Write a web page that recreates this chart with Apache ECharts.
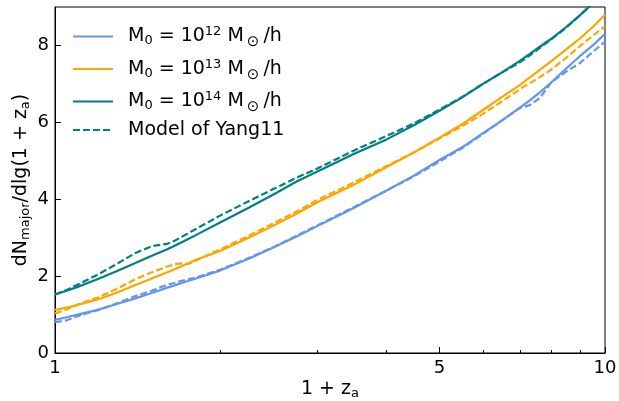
<!DOCTYPE html>
<html>
<head>
<meta charset="utf-8">
<script src="https://cdn.jsdelivr.net/npm/echarts@6/dist/echarts.min.js"></script>
<style>
html,body{margin:0;padding:0;background:#fff;}
#chart{width:619px;height:401px;}
</style>
</head>
<body>
<div id="chart"></div>
<script>
// x = 1 + z_a
var onePlusZ = [1.0, 1.05, 1.1, 1.2, 1.3, 1.4, 1.5, 1.6, 1.65, 1.7, 1.75, 1.8, 2.0, 2.25, 2.5, 2.75, 3.0, 3.5, 4.0, 4.5, 5.0, 5.5, 6.0, 6.5, 7.0, 7.3, 7.6, 8.0, 8.5, 9.0, 9.5, 10.0];

var m12 = [0.86, 0.93, 1.00, 1.13, 1.28, 1.42, 1.56, 1.70, 1.76, 1.82, 1.88, 1.93, 2.15, 2.45, 2.75, 3.03, 3.30, 3.78, 4.22, 4.62, 5.02, 5.35, 5.72, 6.05, 6.38, 6.57, 6.77, 7.05, 7.40, 7.72, 8.00, 8.30];
var m13 = [1.12, 1.18, 1.25, 1.40, 1.58, 1.77, 1.94, 2.10, 2.18, 2.26, 2.34, 2.42, 2.66, 3.00, 3.32, 3.62, 3.92, 4.38, 4.83, 5.22, 5.60, 5.95, 6.32, 6.66, 6.97, 7.17, 7.36, 7.60, 7.90, 8.18, 8.48, 8.80];
var m14 = [1.52, 1.62, 1.72, 1.93, 2.14, 2.34, 2.53, 2.70, 2.79, 2.88, 2.97, 3.06, 3.40, 3.78, 4.13, 4.46, 4.72, 5.18, 5.55, 5.93, 6.30, 6.65, 7.00, 7.30, 7.60, 7.78, 7.96, 8.18, 8.48, 8.78, 9.10, 9.40];

var yang12 = [0.80, 0.85, 0.96, 1.12, 1.30, 1.48, 1.62, 1.78, 1.82, 1.88, 1.92, 1.96, 2.17, 2.47, 2.76, 3.05, 3.32, 3.80, 4.22, 4.60, 4.98, 5.33, 5.70, 6.05, 6.37, 6.45, 6.62, 7.05, 7.32, 7.54, 7.83, 8.10];
var yang13 = [1.03, 1.13, 1.26, 1.45, 1.68, 1.92, 2.10, 2.25, 2.31, 2.33, 2.32, 2.40, 2.70, 3.05, 3.38, 3.68, 3.98, 4.44, 4.86, 5.22, 5.58, 5.90, 6.22, 6.55, 6.86, 7.02, 7.17, 7.38, 7.68, 7.98, 8.25, 8.50];
var yang14 = [1.52, 1.64, 1.78, 2.05, 2.33, 2.60, 2.78, 2.84, 2.92, 3.02, 3.12, 3.22, 3.58, 3.95, 4.27, 4.56, 4.80, 5.27, 5.64, 5.98, 6.33, 6.66, 7.00, 7.30, 7.56, 7.74, 7.93, 8.17, 8.46, 8.78, 9.10, 9.40];

var xMajorTicks = [1, 5, 10];
var xMinorTicks = [2, 3, 4, 6, 7, 8, 9];
var yTicks = [0, 2, 4, 6, 8];

var FONT = 'DejaVu Sans';
var BLUE = '#6495ED', ORANGE = '#FFA500', TEAL = '#008080';

function pairs(ys) {
  return onePlusZ.map(function (x, i) { return [x, ys[i]]; });
}

var legendLabels = {
  'M12': '{g| }{n|M}{sub|0}{n| = 10}{sup|12}{n| M}{od|⊙}{n|/h}',
  'M13': '{g| }{n|M}{sub|0}{n| = 10}{sup|13}{n| M}{od|⊙}{n|/h}',
  'M14': '{g| }{n|M}{sub|0}{n| = 10}{sup|14}{n| M}{od|⊙}{n|/h}',
  'Model of Yang11': '{g| }{n|Model of Yang11}'
};

function line(name, ys, color, dashed) {
  return {
    name: name,
    type: 'line',
    data: pairs(ys),
    symbol: 'none',
    smooth: false,
    clip: true,
    lineStyle: { color: color, width: 2.2, type: dashed ? [7, 3] : 'solid' },
    itemStyle: { color: color },
    z: dashed ? 3 : 2
  };
}

var chart = echarts.init(document.getElementById('chart'), null, { renderer: 'canvas' });
chart.setOption({
  animation: false,
  backgroundColor: '#fff',
  textStyle: { fontFamily: FONT },
  grid: { left: 55, right: 14, top: 7, bottom: 48, containLabel: false, outerBoundsMode: 'none', show: true, borderColor: '#000', borderWidth: 1, backgroundColor: 'transparent' },
  legend: {
    orient: 'vertical',
    left: 72,
    top: 23,
    padding: 0,
    itemWidth: 40,
    itemHeight: 14,
    itemGap: 5.5,
    data: ['M12', 'M13', 'M14', 'Model of Yang11'],
    itemStyle: { opacity: 0 },
    formatter: function (name) { return legendLabels[name]; },
    textStyle: {
      fontFamily: FONT,
      color: '#000',
      rich: {
        g: { width: 10, fontSize: 19, lineHeight: 28 },
        n: { fontSize: 19, lineHeight: 28, fontFamily: FONT, color: '#000' },
        sub: { fontSize: 13, lineHeight: 19, padding: [9, 0, 0, 0], fontFamily: FONT, color: '#000' },
        sup: { fontSize: 13, lineHeight: 19, padding: [0, 0, 9, 0], fontFamily: FONT, color: '#000' },
        od: { fontSize: 15, lineHeight: 16, padding: [12, 4, 0, 3], fontFamily: FONT, color: '#000' }
      }
    }
  },
  xAxis: [
    {
      type: 'log', logBase: 10, min: 1, max: 10,
      axisLine: { show: true, onZero: false, lineStyle: { color: '#000', width: 1 } },
      axisTick: { show: true, inside: true, length: 6, customValues: xMajorTicks, lineStyle: { color: '#000', width: 1 } },
      axisLabel: { show: true, customValues: xMajorTicks, fontSize: 18, color: '#000', fontFamily: FONT, margin: 6 },
      splitLine: { show: false },
      minorTick: { show: false },
      name: '{n|1 + z}{sub|a}',
      nameLocation: 'middle',
      nameGap: 24,
      nameMoveOverlap: false,
      nameTextStyle: {
        rich: {
          n: { fontSize: 19, lineHeight: 24, fontFamily: FONT, color: '#000' },
          sub: { fontSize: 13, lineHeight: 15, padding: [9, 0, 0, 0], fontFamily: FONT, color: '#000' }
        }
      }
    },
    {
      type: 'log', logBase: 10, min: 1, max: 10, position: 'bottom',
      axisLine: { show: false, onZero: false },
      axisTick: { show: true, inside: true, length: 3, customValues: xMinorTicks, lineStyle: { color: '#000', width: 1 } },
      axisLabel: { show: false },
      splitLine: { show: false }
    }
  ],
  yAxis: {
    type: 'value', min: 0, max: 9,
    axisLine: { show: true, onZero: false, lineStyle: { color: '#000', width: 1 } },
    axisTick: { show: true, inside: true, length: 6, customValues: yTicks, lineStyle: { color: '#000', width: 1 } },
    axisLabel: { show: true, customValues: yTicks, fontSize: 18, color: '#000', fontFamily: FONT, margin: 6 },
    splitLine: { show: false },
    name: '{n|dN}{sub|major}{n|/dlg(1 + z}{sub|a}{n|)}',
    nameLocation: 'middle',
    nameRotate: 90,
    nameGap: 22,
    nameMoveOverlap: false,
    nameTextStyle: {
      rich: {
        n: { fontSize: 19, lineHeight: 24, fontFamily: FONT, color: '#000' },
        sub: { fontSize: 13, lineHeight: 15, padding: [9, 0, 0, 0], fontFamily: FONT, color: '#000' }
      }
    }
  },
  series: [
    line('M12', m12, BLUE, false),
    line('M13', m13, ORANGE, false),
    line('M14', m14, TEAL, false),
    line('yang12', yang12, BLUE, true),
    line('yang13', yang13, ORANGE, true),
    line('Model of Yang11', yang14, TEAL, true)
  ]
});
</script>
</body>
</html>
